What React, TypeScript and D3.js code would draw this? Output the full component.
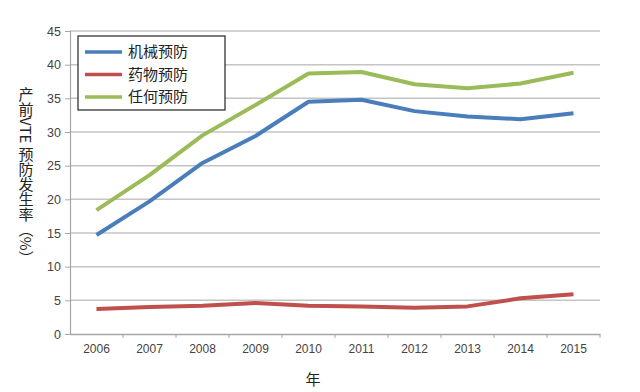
import React, { useRef, useEffect } from 'react';
import * as d3 from 'd3';

const years = ['2006', '2007', '2008', '2009', '2010', '2011', '2012', '2013', '2014', '2015'];
const mechanical = [14.7, 19.7, 25.4, 29.4, 34.5, 34.8, 33.1, 32.3, 31.9, 32.8];
const drug = [3.7, 4.0, 4.2, 4.6, 4.2, 4.1, 3.9, 4.1, 5.3, 5.9];
const anyProphylaxis = [18.4, 23.6, 29.5, 34.0, 38.7, 38.9, 37.1, 36.5, 37.2, 38.8];
const seriesNames = ['机械预防', '药物预防', '任何预防'];
const yTicks = [0, 5, 10, 15, 20, 25, 30, 35, 40, 45];

const colors = ['#4a7ebb', '#c0504d', '#9bbb59'];

const App = () => {
  const ref = useRef<SVGSVGElement>(null);

  useEffect(() => {
    const svg = d3.select(ref.current);
    svg.selectAll('*').remove();
    const width = 640;
    const height = 392;
    const margin = { top: 31, right: 40, bottom: 58, left: 70 };
    const font = 'Liberation Sans, Arial, sans-serif';
    const cjk = 'Noto Sans CJK SC, sans-serif';

    const x = d3.scaleBand()
      .domain(years)
      .range([margin.left, width - margin.right]);
    const y = d3.scaleLinear()
      .domain([0, 45])
      .range([height - margin.bottom, margin.top]);

    svg.append('rect').attr('width', width).attr('height', height).attr('fill', '#fff');

    // gridlines
    svg.append('g')
      .selectAll('line')
      .data(yTicks.filter(d => d > 0))
      .join('line')
      .attr('x1', margin.left)
      .attr('x2', width - margin.right)
      .attr('y1', d => y(d))
      .attr('y2', d => y(d))
      .attr('stroke', '#c4c4c4')
      .attr('stroke-width', 1.5);

    // y axis
    const yAxis = svg.append('g')
      .attr('transform', `translate(${margin.left},0)`)
      .call(d3.axisLeft(y).tickValues(yTicks).tickSize(5).tickPadding(4));
    yAxis.select('.domain').attr('stroke', '#a6a6a6').attr('stroke-width', 1.2);
    yAxis.selectAll('.tick line').attr('stroke', '#a6a6a6');
    yAxis.selectAll('text')
      .attr('font-family', font)
      .attr('font-size', 12.5)
      .attr('fill', '#444');

    // x axis
    const xAxis = svg.append('g')
      .attr('transform', `translate(0,${height - margin.bottom})`)
      .call(d3.axisBottom(x).tickSize(0).tickPadding(10));
    xAxis.select('.domain').attr('stroke', '#a6a6a6').attr('stroke-width', 1.5);
    xAxis.selectAll('text')
      .attr('font-family', font)
      .attr('font-size', 12)
      .attr('fill', '#444');
    xAxis.selectAll('line.sep')
      .data(years)
      .join('line')
      .attr('class', 'sep')
      .attr('x1', d => (x(d) as number) + x.bandwidth())
      .attr('x2', d => (x(d) as number) + x.bandwidth())
      .attr('y1', 0)
      .attr('y2', 4)
      .attr('stroke', '#a6a6a6');

    const data = [mechanical, drug, anyProphylaxis];
    const line = d3.line<number>()
      .x((_, i) => (x(years[i]) as number) + x.bandwidth() / 2)
      .y(d => y(d));

    svg.append('g')
      .selectAll('path')
      .data([data[1], data[0], data[2]])
      .join('path')
      .attr('d', d => line(d))
      .attr('fill', 'none')
      .attr('stroke', d => colors[data.indexOf(d)])
      .attr('stroke-width', 4)
      .attr('stroke-linejoin', 'round');

    // legend
    const lg = svg.append('g').attr('transform', 'translate(78,36)');
    lg.append('rect')
      .attr('width', 147)
      .attr('height', 74)
      .attr('fill', '#fff')
      .attr('stroke', '#222')
      .attr('stroke-width', 1.2);
    seriesNames.forEach((name, i) => {
      const yy = 16 + i * 22.5;
      lg.append('line')
        .attr('x1', 7).attr('x2', 44)
        .attr('y1', yy).attr('y2', yy)
        .attr('stroke', colors[i])
        .attr('stroke-width', 3.5);
      lg.append('text')
        .attr('x', 50)
        .attr('y', yy)
        .attr('dy', '0.36em')
        .attr('font-family', cjk)
        .attr('font-size', 15)
        .attr('fill', '#222')
        .text(name);
    });

    // axis titles
    svg.append('text')
      .attr('x', 313)
      .attr('y', 385)
      .attr('text-anchor', 'middle')
      .attr('font-family', cjk)
      .attr('font-size', 15)
      .attr('fill', '#222')
      .text('年');

    svg.append('text')
      .attr('x', 26)
      .attr('y', 87)
      .style('writing-mode', 'vertical-rl')
      .attr('font-family', cjk)
      .attr('font-size', 15)
      .attr('fill', '#222')
      .text('产前VTE 预防发生率（%）');
  }, []);

  return <svg ref={ref} width={640} height={392} style={{ position: 'absolute', left: 0, top: 0 }} />;
};

export default App;
